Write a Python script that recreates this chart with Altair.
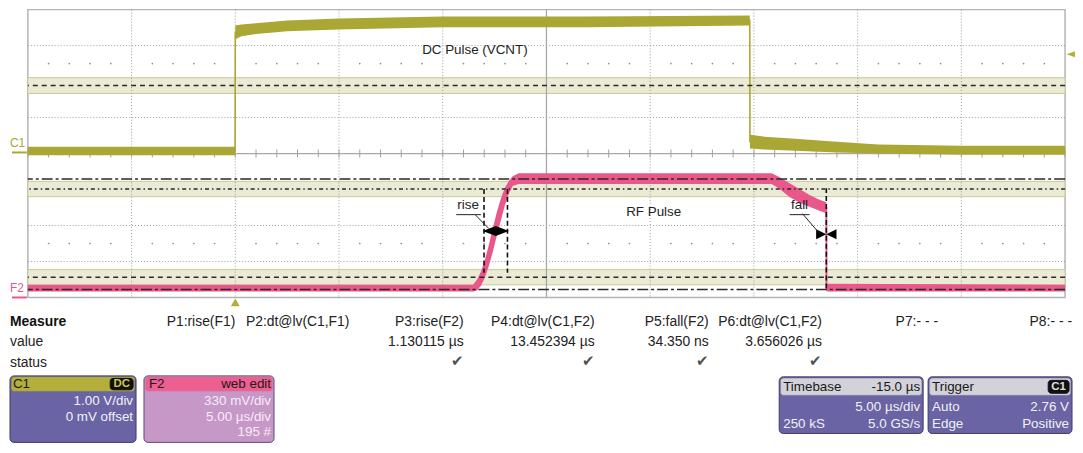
import altair as alt
import pandas as pd

FONT = "Liberation Sans"

# ---------------- data ----------------
T_RANGE = [-10.0, 40.0]            # µs shown (5 µs/div, trigger at 0 µs)
DIV_RANGE = [-4.0, 4.0]            # vertical divisions
GRID_T = [-5, 0, 5, 10, 20, 25, 30, 35]
GRID_DIV = [-3, -2, -1, 1, 2, 3]
CENTER_T = 15.0
MINOR_T = list(range(-10, 41))
DOT_DIV = [2.5, -2.5]

C1_V_PER_DIV = 1.00
C1_OFFSET_DIV = 0.0
F2_MV_PER_DIV = 330.0
F2_OFFSET_DIV = -3.78

# C1: DC pulse (VCNT), envelope of the noisy trace, volts
C1_T = [-10, -0.01, 0.0, 0.3, 1.0, 2.5, 5, 10, 17, 24.80, 24.81, 25.5, 27, 29, 31, 35, 40]
C1_HI = [0.19, 0.19, 3.56, 3.59, 3.62, 3.70, 3.75, 3.81, 3.81, 3.84, 0.52, 0.47, 0.41, 0.33, 0.25, 0.22, 0.22]
C1_LO = [-0.05, -0.05, 3.18, 3.26, 3.32, 3.40, 3.45, 3.51, 3.51, 3.56, 0.14, 0.11, 0.08, 0.03, 0.00, -0.03, -0.03]

# F2: RF pulse envelope, mV
F2_T = [-10, 11.46, 11.65, 11.84, 12.03, 12.22, 12.41, 12.60, 12.80, 12.99, 13.18, 13.37, 13.66,
        17.4, 22.2, 25.86, 26.24, 26.72, 27.20, 27.68, 28.16, 28.44, 28.49, 28.50, 40]
F2_HI = [45, 45, 90, 163, 271, 407, 560, 705, 832, 931, 994, 1040, 1067,
         1067, 1067, 1067, 1031, 976, 922, 868, 823, 805, 800, 54, 45]
F2_LO = [-18, -18, -9, 36, 108, 217, 344, 488, 633, 768, 877, 949, 967,
         967, 967, 967, 922, 850, 796, 759, 723, 705, 700, -18, -18]

C1_LEVEL_V = 1.89
C1_HYST_V = 0.22
TRIG_LEVEL_V = 2.76
TRIG_T = 0.0
F2_TOP_MV = 1015
F2_BASE_MV = 0
F2_L90_MV = 922
F2_L10_MV = 113
F2_HYST_MV = 70

RISE_T0 = 11.99
RISE_TIME = 1.130115
FALL_T = 28.49

MEASURE_HEADERS = ["P1:rise(F1)", "P2:dt@lv(C1,F1)", "P3:rise(F2)", "P4:dt@lv(C1,F2)",
                   "P5:fall(F2)", "P6:dt@lv(C1,F2)", "P7:- - -", "P8:- - -"]
MEASURE_VALUES = ["", "", "1.130115 µs", "13.452394 µs", "34.350 ns", "3.656026 µs", "", ""]
MEASURE_OK = [False, False, True, True, True, True, False, False]

# ---------------- layout ----------------
W, H = 1045, 290
COL_RIGHT = [237, 352, 467, 599, 714, 828, 945, 1080]


def c1div(v):
    return v / C1_V_PER_DIV + C1_OFFSET_DIV


def f2div(mv):
    return mv / F2_MV_PER_DIV + F2_OFFSET_DIV


def tx(x):  # page x -> plot x
    return x - 28


def ty(y):  # page y -> plot y
    return y - 8


XS = alt.Scale(domain=T_RANGE, nice=False, zero=False)
YS = alt.Scale(domain=DIV_RANGE, nice=False, zero=False)


def X(f):
    return alt.X(f"{f}:Q", scale=XS, axis=None)


def Y(f):
    return alt.Y(f"{f}:Q", scale=YS, axis=None)


layers = []

# horizontal dotted grid (under bands)
layers.append(alt.Chart(pd.DataFrame({"d": GRID_DIV})).mark_rule(
    color="#9d9d9d", strokeDash=[1, 2], strokeWidth=1).encode(y=Y("d")))

# bands (hysteresis)
bands = pd.DataFrame({
    "hi": [c1div(C1_LEVEL_V + C1_HYST_V), f2div(F2_L90_MV + F2_HYST_MV), f2div(F2_L10_MV + F2_HYST_MV)],
    "lo": [c1div(C1_LEVEL_V - C1_HYST_V), f2div(F2_L90_MV - F2_HYST_MV), f2div(F2_L10_MV - F2_HYST_MV)],
})
layers.append(alt.Chart(bands).mark_rect(fill="#eaead5", stroke="#caca96", strokeWidth=1).encode(
    y=Y("hi"), y2="lo", x=alt.value(0), x2=alt.value(W)))

# vertical dotted grid
layers.append(alt.Chart(pd.DataFrame({"t": GRID_T})).mark_rule(
    color="#9d9d9d", strokeDash=[1, 2], strokeWidth=1).encode(x=X("t")))

# center axes
layers.append(alt.Chart(pd.DataFrame({"t": [CENTER_T]})).mark_rule(
    color="#a8a8a8", strokeWidth=1.3).encode(x=X("t")))
layers.append(alt.Chart(pd.DataFrame({"d": [0.0]})).mark_rule(
    color="#a8a8a8", strokeWidth=1.3).encode(y=Y("d")))
layers.append(alt.Chart(pd.DataFrame({"t": MINOR_T})).mark_rule(
    color="#a0a0a0", strokeWidth=1).encode(x=X("t"), y=alt.value(H / 2 - 4), y2=alt.value(H / 2 + 4)))

# minor dots
dots = pd.DataFrame([(t, d) for d in DOT_DIV for t in MINOR_T if t % 5 != 0], columns=["t", "d"])
layers.append(alt.Chart(dots).mark_circle(size=3, color="#8c8c8c", opacity=1).encode(x=X("t"), y=Y("d")))

# traces
c1 = pd.DataFrame({"t": C1_T, "hi": [c1div(v) for v in C1_HI], "lo": [c1div(v) for v in C1_LO]})
c1["mid"] = (c1["hi"] + c1["lo"]) / 2
f2 = pd.DataFrame({"t": F2_T, "hi": [f2div(v) for v in F2_HI], "lo": [f2div(v) for v in F2_LO]})
f2["mid"] = (f2["hi"] + f2["lo"]) / 2

C1_COLOR = "#aaa734"
F2_COLOR = "#e9578b"
layers.append(alt.Chart(c1).mark_area(color=C1_COLOR, opacity=1).encode(x=X("t"), y=Y("hi"), y2="lo"))
layers.append(alt.Chart(c1).mark_line(color=C1_COLOR, strokeWidth=1.6).encode(x=X("t"), y=Y("mid")))
layers.append(alt.Chart(f2).mark_area(color=F2_COLOR, opacity=1).encode(x=X("t"), y=Y("hi"), y2="lo"))
layers.append(alt.Chart(f2).mark_line(color=F2_COLOR, strokeWidth=2).encode(x=X("t"), y=Y("mid")))


# level lines (drawn over the traces)
def level(div_value, dash, width=1.5, color="#2a2a2a"):
    return alt.Chart(pd.DataFrame({"d": [div_value]})).mark_rule(
        color=color, strokeDash=dash, strokeWidth=width).encode(y=Y("d"))


layers.append(level(c1div(C1_LEVEL_V), [5, 4]))
layers.append(level(f2div(F2_TOP_MV), [11, 3, 3, 3]))
layers.append(level(f2div(F2_L90_MV), [4, 3, 1.5, 3]))
layers.append(level(f2div(F2_L10_MV), [5, 4]))
layers.append(level(f2div(F2_BASE_MV), [11, 3, 3, 3]))

# measurement cursors
cur = pd.DataFrame({
    "t": [RISE_T0, RISE_T0 + RISE_TIME, FALL_T],
    "y1": [f2div(F2_L90_MV), f2div(F2_L90_MV), f2div(930)],
    "y2": [f2div(F2_L10_MV + 40), f2div(F2_L10_MV + 40), f2div(F2_BASE_MV)],
})
layers.append(alt.Chart(cur).mark_rule(color="#111", strokeDash=[5, 3], strokeWidth=1.6).encode(
    x=X("t"), y=Y("y1"), y2="y2"))

mid_mv = (F2_TOP_MV + F2_BASE_MV) / 2
rise_arrow = pd.DataFrame({"t": [RISE_T0 + RISE_TIME / 2], "d": [f2div(mid_mv + 30)]})
layers.append(alt.Chart(rise_arrow).mark_point(
    shape="M-1,0L0,-0.38L0,0.38Z M1,0L0,-0.38L0,0.38Z", size=700, filled=True, color="#000", opacity=1
).encode(x=X("t"), y=Y("d")))
fall_arrow = pd.DataFrame({"t": [FALL_T], "d": [f2div(mid_mv)]})
layers.append(alt.Chart(fall_arrow).mark_point(
    shape="M-1,-0.5L0,0L-1,0.5Z M1,-0.5L0,0L1,0.5Z", size=420, filled=True, color="#000", opacity=1
).encode(x=X("t"), y=Y("d")))

# leader lines for "rise" / "fall"
leaders = pd.DataFrame({
    "t1": [10.65, 11.56, 26.72, 27.34],
    "t2": [11.84, 12.22, 27.68, 28.16],
    "y1": [f2div(687), f2div(687), f2div(687), f2div(696)],
    "y2": [f2div(687), f2div(560), f2div(687), f2div(515)],
})
layers.append(alt.Chart(leaders).mark_rule(color="#222", strokeWidth=1).encode(
    x=X("t1"), x2="t2", y=Y("y1"), y2="y2"))

labels = pd.DataFrame({
    "text": ["DC Pulse (VCNT)", "RF Pulse", "rise", "fall"],
    "t": [11.55, 20.17, 11.22, 27.2],
    "d": [c1div(2.88), f2div(714), f2div(775), f2div(775)],
})
layers.append(alt.Chart(labels).mark_text(font=FONT, fontSize=13.5, color="#222", baseline="middle").encode(
    x=X("t"), y=Y("d"), text="text:N"))

# channel markers at left, trigger markers
layers.append(alt.Chart(pd.DataFrame({"d": [c1div(0.03)]})).mark_rule(color=C1_COLOR, strokeWidth=2).encode(
    y=Y("d"), x=alt.value(tx(12)), x2=alt.value(tx(27))))
layers.append(alt.Chart(pd.DataFrame({"a": [0]})).mark_rule(color=F2_COLOR, strokeWidth=2).encode(
    y=alt.value(ty(298)), x=alt.value(tx(12)), x2=alt.value(tx(27))))
layers.append(alt.Chart(pd.DataFrame({"text": ["C1"]})).mark_text(
    font=FONT, fontSize=12, color=C1_COLOR, align="left", baseline="middle").encode(
    x=alt.value(tx(10)), y=alt.value(ty(142)), text="text:N"))
layers.append(alt.Chart(pd.DataFrame({"text": ["F2"]})).mark_text(
    font=FONT, fontSize=12, color=F2_COLOR, align="left", baseline="middle").encode(
    x=alt.value(tx(10)), y=alt.value(ty(288)), text="text:N"))
layers.append(alt.Chart(pd.DataFrame({"t": [TRIG_T]})).mark_point(
    shape="triangle-up", size=80, filled=True, color="#b3ad3c", opacity=1).encode(
    x=X("t"), y=alt.value(ty(303))))
layers.append(alt.Chart(pd.DataFrame({"d": [c1div(TRIG_LEVEL_V)]})).mark_point(
    shape="M-1,0L1,-0.7L1,0.7Z", size=120, filled=True, color="#b3ad3c", opacity=1).encode(
    y=Y("d"), x=alt.value(W + 7)))


# ---------------- bottom info panel ----------------
def rects(rows, radius, stroke_width=1):
    df = pd.DataFrame(rows, columns=["x1", "x2", "y1", "y2", "fill", "stroke"])
    df["x1"] = df["x1"].map(tx)
    df["x2"] = df["x2"].map(tx)
    df["y1"] = df["y1"].map(ty)
    df["y2"] = df["y2"].map(ty)
    return alt.Chart(df).mark_rect(cornerRadius=radius, strokeWidth=stroke_width).encode(
        x=alt.X("x1:Q", scale=None), x2="x2:Q", y=alt.Y("y1:Q", scale=None), y2="y2:Q",
        fill=alt.Fill("fill:N", scale=None), stroke=alt.Stroke("stroke:N", scale=None))


def texts(rows, align, color, size=14, weight="normal"):
    df = pd.DataFrame(rows, columns=["text", "x", "y"])
    df["x"] = df["x"].map(tx)
    df["y"] = df["y"].map(ty)
    return alt.Chart(df).mark_text(align=align, baseline="middle", font=FONT, fontSize=size,
                                   fontWeight=weight, color=color).encode(
        x=alt.X("x:Q", scale=None), y=alt.Y("y:Q", scale=None), text="text:N")


PURPLE = "#6b64a4"
layers.append(rects([
    (10, 137, 377, 444, PURPLE, "#3e3a6a"),
    (145, 276, 377, 444, "#c598c7", "#5a4a7a"),
    (785, 930, 378, 435, PURPLE, "#3e3a6a"),
    (935, 1080, 378, 435, PURPLE, "#3e3a6a"),
], 4))
layers.append(rects([
    (12, 135, 378.5, 392, "#b4ae3a", "#b4ae3a"),
    (147, 274, 378.5, 392, "#ec5f90", "#ec5f90"),
    (787, 928, 380, 396, "#d2d2d8", "#d2d2d8"),
    (937, 1078, 380, 396, "#d2d2d8", "#d2d2d8"),
], 2))
layers.append(rects([
    (111, 134, 379.5, 391, "#111111", "#111111"),
    (1056, 1077, 381.5, 394.5, "#111111", "#111111"),
], 3))

layers.append(texts([("Measure", 10, 323)], "left", "#111", 14, "bold"))
layers.append(texts([("value", 10, 343), ("status", 10, 364)], "left", "#222"))
layers.append(texts([(h, r, 323) for h, r in zip(MEASURE_HEADERS, COL_RIGHT)], "right", "#222"))
layers.append(texts([(v, r, 343) for v, r in zip(MEASURE_VALUES, COL_RIGHT) if v], "right", "#222"))
layers.append(texts([("\u2714", r, 362) for ok, r in zip(MEASURE_OK, COL_RIGHT) if ok], "right", "#505050", 15))

layers.append(texts([("C1", 13, 385.5), ("F2", 150, 385.5), ("Timebase", 789, 388.5), ("Trigger", 939, 388.5)],
                    "left", "#1a1a1a", 13.5))
layers.append(texts([("web edit", 273, 385.5), ("-15.0 µs", 927, 388.5)], "right", "#1a1a1a", 13.5))
layers.append(texts([("DC", 122.5, 385.5)], "center", "#cfc752", 11.5, "bold"))
layers.append(texts([("C1", 1066.5, 388)], "center", "#e0e0e0", 11.5, "bold"))
layers.append(texts([("1.00 V/div", 134, 402), ("0 mV offset", 134, 418),
                     ("5.00 µs/div", 927, 408), ("5.0 GS/s", 927, 426),
                     ("2.76 V", 1077, 408), ("Positive", 1077, 426)], "right", "#f0f0f4", 13.5))
layers.append(texts([("250 kS", 789, 426), ("Auto", 939, 408), ("Edge", 939, 426)], "left", "#f0f0f4", 13.5))
layers.append(texts([("330 mV/div", 273, 402), ("5.00 µs/div", 273, 418), ("195 #", 273, 434)],
                    "right", "#f8ecf6", 13.5))

chart = alt.layer(*layers).properties(
    width=W, height=H,
    padding={"left": 20, "top": 0, "right": 10, "bottom": 147},
    autosize="none", background="white",
).resolve_scale(x="independent", y="independent").configure_view(stroke="#b4b4b4", strokeWidth=1.5)

chart.save("out.html", embed_options={"renderer": "svg", "actions": False})
